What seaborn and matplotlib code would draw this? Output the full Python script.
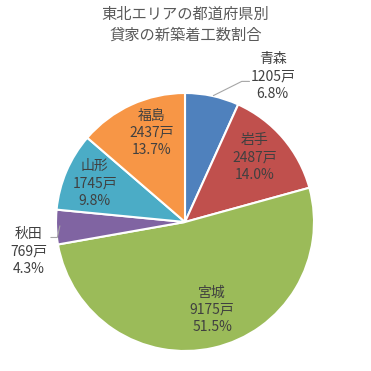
import numpy as np
import matplotlib
matplotlib.use("Agg")
import matplotlib.pyplot as plt
import seaborn as sns

# data
prefectures = ["青森", "岩手", "宮城", "秋田", "山形", "福島"]
units = [1205, 2487, 9175, 769, 1745, 2437]
colors = ["#4F81BD", "#C0504D", "#9BBB59", "#8064A2", "#4BACC6", "#F79646"]

sns.set_theme(style="white")
plt.rcParams['font.family'] = ['Noto Sans CJK JP', 'DejaVu Sans']

fig = plt.figure(figsize=(3.71, 3.71), dpi=100)
ax = fig.add_axes([56 / 371, 20 / 371, 258 / 371, 258 / 371])

wedges, _ = ax.pie(units, colors=colors, startangle=90, counterclock=False,
                   wedgeprops=dict(edgecolor="white", linewidth=1.5))
ax.set_xlim(-1, 1)
ax.set_ylim(-1, 1)
ax.set_aspect("equal")
ax.axis("off")

total = sum(units)
# label offsets (fraction of radius), one per slice
label_pos = [(0.68, 1.13), (0.54, 0.50), (0.21, -0.68), (-1.21, -0.23), (-0.70, 0.30), (-0.26, 0.69)]
for name, v, (x, y) in zip(prefectures, units, label_pos):
    pct = v / total * 100
    ax.text(x, y, f"{name}\n{v}戸\n{pct:.1f}%", ha="center", va="center",
            fontsize=10, color="#404040", linespacing=1.3, clip_on=False)

# leader lines for the outside labels
ax.plot([0.22, 0.44, 0.50], [0.98, 1.09, 1.09], color="#A6A6A6", lw=0.8, clip_on=False)
ax.plot([-1.04, -0.99, -0.97], [-0.12, -0.12, -0.03], color="#A6A6A6", lw=0.8, clip_on=False)

fig.text(0.5, 1 - 25 / 371, "東北エリアの都道府県別\n貸家の新築着工数割合", ha="center", va="center",
         fontsize=11, color="#595959", linespacing=1.3)

fig.savefig("out.png", dpi=100, facecolor="white")
